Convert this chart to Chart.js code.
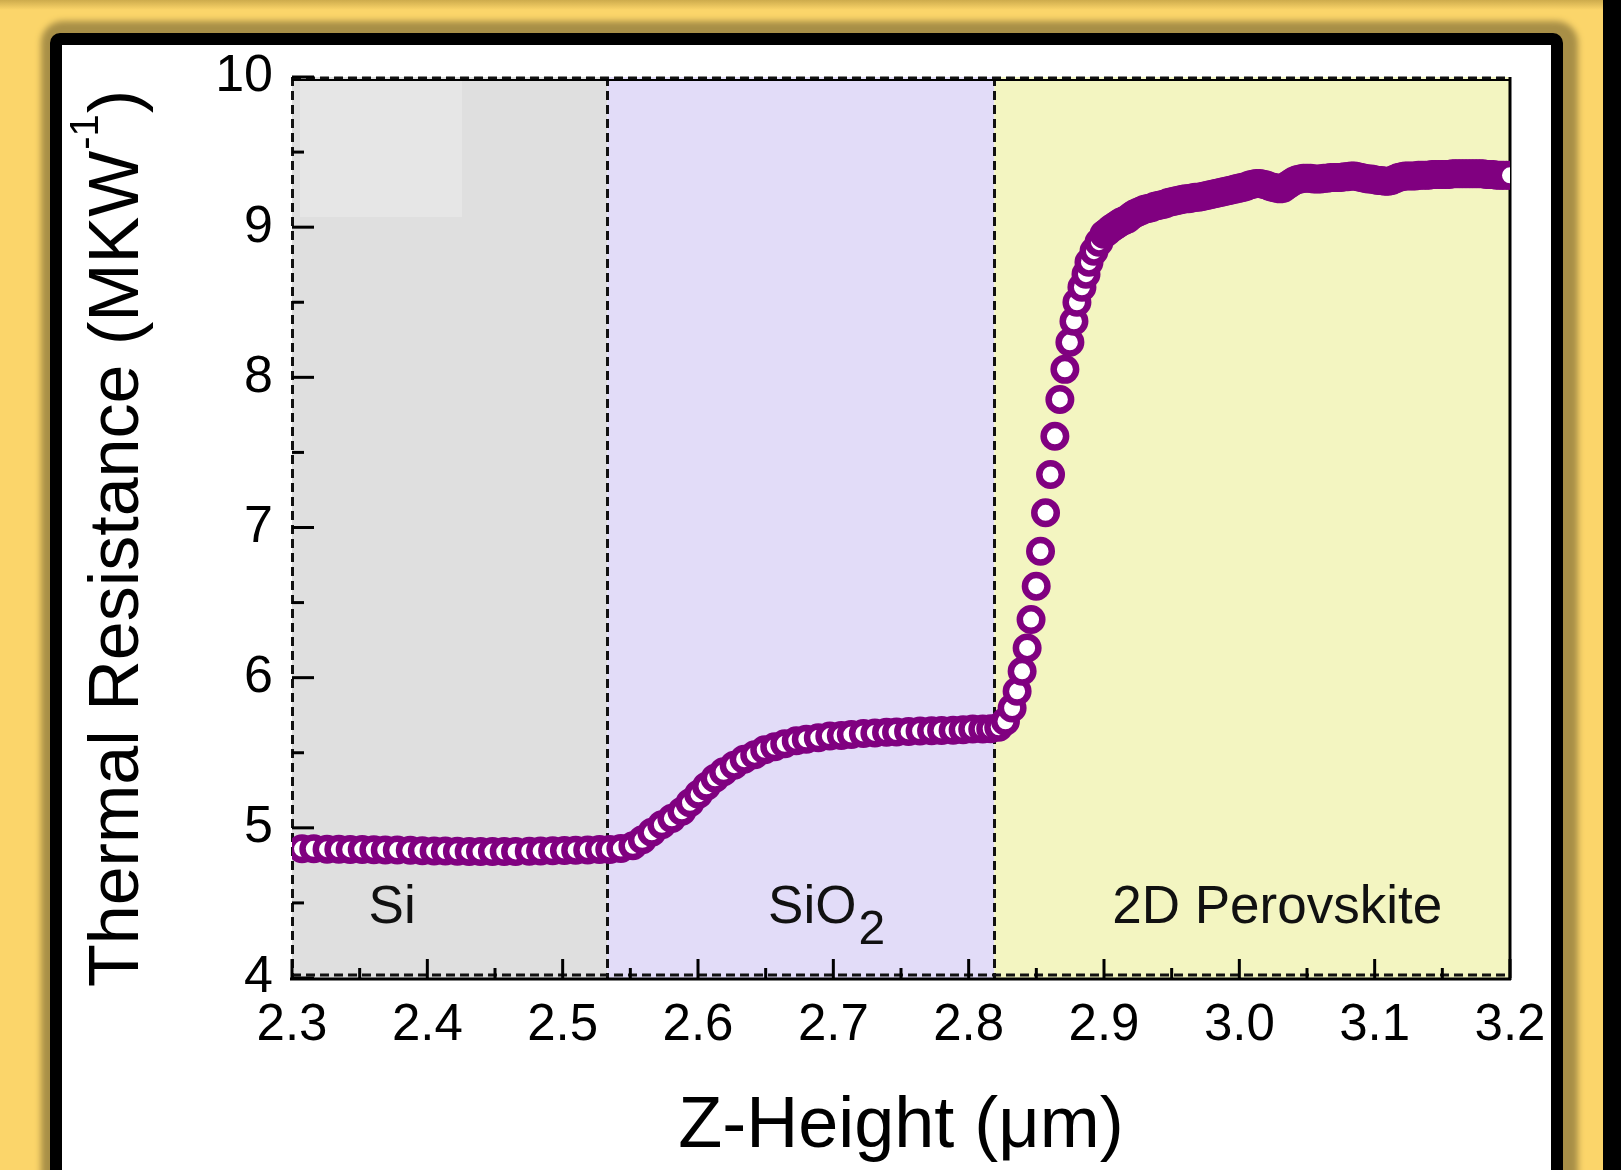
<!DOCTYPE html>
<html>
<head>
<meta charset="utf-8">
<script src="https://cdn.jsdelivr.net/npm/chart.js@4.4.1/dist/chart.umd.min.js"></script>
<style>
  html, body { margin: 0; padding: 0; }
  body { width: 1621px; height: 1170px; overflow: hidden; position: relative; background: #fbd56a; }
  .topshade { position: absolute; left: 0; top: 0; width: 1603px; height: 10px; background: linear-gradient(rgba(150,120,40,0.45), rgba(150,120,40,0)); }
  .frame { position: absolute; left: 50px; top: 33px; width: 1513px; height: 1220px; box-sizing: border-box;
           border: 12px solid #000; border-radius: 10px; background: #fff; box-shadow: 3px 0 6px 12px #a88f47; }
  .rstrip { position: absolute; left: 1603px; top: 0; width: 18px; height: 1170px; background: #000; }
  #chart { position: absolute; left: 0; top: 0; }
</style>
</head>
<body>
<div class="topshade"></div>
<div class="frame"></div>
<div class="rstrip"></div>
<canvas id="chart" width="1621" height="1170"></canvas>
<script>
// Z-height (um) and thermal resistance (MK/W)
const zHeight = [
  2.3074, 2.3161, 2.3259, 2.3346, 2.343, 2.3519, 2.3605, 2.3689, 2.3778, 2.3874,
  2.3963, 2.405, 2.4133, 2.4222, 2.4309, 2.4393, 2.4481, 2.4568, 2.4652, 2.4753,
  2.4837, 2.4926, 2.5013, 2.5096, 2.5185, 2.5272,
  2.5348, 2.543, 2.5519, 2.5589, 2.5659, 2.5733, 2.5807, 2.5881, 2.5941, 2.6004,
  2.6063, 2.6126, 2.6189, 2.6267, 2.6341, 2.6419, 2.6493, 2.6567, 2.6641, 2.6726,
  2.68, 2.6889, 2.6974, 2.7059, 2.7133, 2.7222, 2.7307, 2.7393, 2.7467, 2.7556,
  2.7641, 2.7726, 2.78, 2.7885, 2.7959, 2.803, 2.8104, 2.8163,
  2.8222, 2.8272, 2.8321, 2.8358, 2.8395, 2.8432, 2.8461, 2.8499, 2.8531, 2.8568,
  2.8605, 2.8637, 2.8674, 2.8711, 2.8748, 2.8778, 2.88, 2.8837, 2.8867, 2.8889,
  2.8926, 2.8963, 2.9,
  2.9025, 2.905, 2.9075, 2.91, 2.9125, 2.915, 2.9175, 2.92, 2.9225, 2.925,
  2.9275, 2.93, 2.9325, 2.935, 2.9375, 2.94, 2.9425, 2.945, 2.9475, 2.95,
  2.9525, 2.955, 2.9575, 2.96, 2.9625, 2.965, 2.9675, 2.97, 2.9725, 2.975,
  2.9775, 2.98, 2.9825, 2.985, 2.9875, 2.99, 2.9925, 2.995, 2.9975, 3.0,
  3.0025, 3.005, 3.0075, 3.01, 3.0125, 3.015, 3.0175, 3.02, 3.0225, 3.025,
  3.0275, 3.03, 3.0325, 3.035, 3.0375, 3.04, 3.0425, 3.045, 3.0475, 3.05,
  3.0525, 3.055, 3.0575, 3.06, 3.0625, 3.065, 3.0675, 3.07, 3.0725, 3.075,
  3.0775, 3.08, 3.0825, 3.085, 3.0875, 3.09, 3.0925, 3.095, 3.0975, 3.1,
  3.1025, 3.105, 3.1075, 3.11, 3.1125, 3.115, 3.1175, 3.12, 3.1225, 3.125,
  3.1275, 3.13, 3.1325, 3.135, 3.1375, 3.14, 3.1425, 3.145, 3.1475, 3.15,
  3.1525, 3.155, 3.1575, 3.16, 3.1625, 3.165, 3.1675, 3.17, 3.1725, 3.175,
  3.1775, 3.18, 3.1825, 3.185, 3.1875, 3.19, 3.1925, 3.195, 3.1975, 3.2
];
const thermalR = [
  4.860, 4.860, 4.858, 4.857, 4.856, 4.855, 4.854, 4.853, 4.852, 4.850,
  4.848, 4.846, 4.845, 4.844, 4.843, 4.842, 4.842, 4.842, 4.843, 4.844,
  4.845, 4.847, 4.849, 4.851, 4.853, 4.855,
  4.856, 4.862, 4.880, 4.920, 4.970, 5.020, 5.063, 5.110, 5.167, 5.223,
  5.277, 5.330, 5.373, 5.417, 5.457, 5.487, 5.520, 5.540, 5.560, 5.580,
  5.590, 5.600, 5.611, 5.615, 5.621, 5.628, 5.632, 5.636, 5.638, 5.642,
  5.645, 5.647, 5.649, 5.650, 5.653, 5.658, 5.658, 5.660,
  5.670, 5.709, 5.798, 5.909, 6.042, 6.198, 6.387, 6.609, 6.842, 7.098,
  7.353, 7.607, 7.853, 8.053, 8.233, 8.373, 8.500, 8.600, 8.687, 8.767,
  8.840, 8.900, 8.953,
  8.970, 8.990, 9.005, 9.020, 9.035, 9.045, 9.055, 9.075, 9.090, 9.100,
  9.110, 9.120, 9.125, 9.130, 9.140, 9.145, 9.150, 9.155, 9.165, 9.170,
  9.175, 9.180, 9.185, 9.190, 9.190, 9.195, 9.200, 9.200, 9.205, 9.210,
  9.215, 9.220, 9.225, 9.230, 9.235, 9.240, 9.245, 9.250, 9.255, 9.260,
  9.265, 9.270, 9.280, 9.285, 9.290, 9.290, 9.285, 9.280, 9.270, 9.265,
  9.260, 9.255, 9.260, 9.275, 9.290, 9.305, 9.315, 9.320, 9.325, 9.325,
  9.325, 9.320, 9.320, 9.320, 9.325, 9.325, 9.330, 9.330, 9.330, 9.330,
  9.335, 9.335, 9.340, 9.340, 9.335, 9.330, 9.325, 9.320, 9.320, 9.315,
  9.310, 9.310, 9.305, 9.305, 9.310, 9.320, 9.330, 9.335, 9.340, 9.340,
  9.340, 9.340, 9.345, 9.345, 9.345, 9.345, 9.350, 9.350, 9.350, 9.350,
  9.350, 9.350, 9.355, 9.355, 9.355, 9.355, 9.355, 9.355, 9.355, 9.355,
  9.355, 9.355, 9.350, 9.350, 9.350, 9.345, 9.345, 9.345, 9.345, 9.345
];

// layers (x extents in um)
const layerNames = ['Si', 'SiO2', '2D Perovskite'];
const layerStart = [2.3, 2.533, 2.819];
const layerEnd = [2.533, 2.819, 3.2];

const FONT = "'Liberation Sans', Arial, sans-serif";
const layerFill = ['#dfdfdf', '#e2dcf8', '#f3f5c1'];
const labelX = [2.374, 2.695, 3.028];   // label centres (data units)
const labelBase = 4.367;                // label baseline (data units)

const layerPlugin = {
    id: 'layers',
    beforeDatasetsDraw(chart) {
        const { ctx, chartArea: a, scales: { x, y } } = chart;
        ctx.save();

        // background bands
        layerStart.forEach((s, i) => {
            const x0 = x.getPixelForValue(s), x1 = x.getPixelForValue(layerEnd[i]);
            ctx.fillStyle = layerFill[i];
            ctx.fillRect(x0, a.top, x1 - x0, a.bottom - a.top);
        });
        // lighter patch in the Si band (scan artefact)
        ctx.fillStyle = '#e6e6e6';
        ctx.fillRect(a.left + 8, a.top + 3, 162, 137);

        // layer labels
        ctx.fillStyle = '#111';
        ctx.textBaseline = 'alphabetic';
        const by = y.getPixelForValue(labelBase);
        ctx.font = '53px ' + FONT;
        ctx.textAlign = 'center';
        ctx.fillText(layerNames[0], x.getPixelForValue(labelX[0]), by);
        ctx.fillText(layerNames[2], x.getPixelForValue(labelX[2]), by);
        // SiO2 with subscript
        const w1 = ctx.measureText('SiO').width;
        ctx.font = '48px ' + FONT;
        const w2 = ctx.measureText('2').width;
        const sx = x.getPixelForValue(labelX[1]) - (w1 + w2 + 2) / 2;
        ctx.textAlign = 'left';
        ctx.font = '53px ' + FONT;
        ctx.fillText('SiO', sx, by);
        ctx.font = '48px ' + FONT;
        ctx.fillText('2', sx + w1 + 2, by + 21);

        // dashed layer borders
        ctx.strokeStyle = '#111';
        ctx.lineWidth = 3;
        ctx.setLineDash([9, 5]);
        layerStart.forEach(s => {
            const px = Math.round(x.getPixelForValue(s)) + 0.5;
            ctx.beginPath(); ctx.moveTo(px, a.top); ctx.lineTo(px, a.bottom); ctx.stroke();
        });
        ctx.beginPath(); ctx.moveTo(a.left, a.top + 1); ctx.lineTo(a.right, a.top + 1); ctx.stroke();
        ctx.beginPath(); ctx.moveTo(a.left, a.bottom - 3); ctx.lineTo(a.right, a.bottom - 3); ctx.stroke();

        // solid axis lines
        ctx.setLineDash([]);
        ctx.strokeStyle = '#000';
        ctx.lineWidth = 3;
        ctx.beginPath(); ctx.moveTo(a.left - 2, a.bottom + 1); ctx.lineTo(a.right + 1, a.bottom + 1); ctx.stroke();
        ctx.beginPath(); ctx.moveTo(a.right, a.top); ctx.lineTo(a.right, a.bottom + 2); ctx.stroke();
        ctx.lineWidth = 2;
        ctx.beginPath(); ctx.moveTo(a.left, a.top + 3); ctx.lineTo(a.right, a.top + 3); ctx.stroke();

        // inward ticks, major + minor
        ctx.lineWidth = 3;
        const yt = y.ticks.map(t => t.value);
        yt.forEach((v, i) => {
            const py = y.getPixelForValue(v);
            ctx.beginPath(); ctx.moveTo(a.left, py); ctx.lineTo(a.left + 22, py); ctx.stroke();
            if (i < yt.length - 1) {
                const pm = y.getPixelForValue((v + yt[i + 1]) / 2);
                ctx.beginPath(); ctx.moveTo(a.left, pm); ctx.lineTo(a.left + 12, pm); ctx.stroke();
            }
        });
        const xt = x.ticks.map(t => t.value);
        xt.forEach((v, i) => {
            const px = x.getPixelForValue(v);
            ctx.beginPath(); ctx.moveTo(px, a.bottom); ctx.lineTo(px, a.bottom - 19); ctx.stroke();
            if (i < xt.length - 1) {
                const pm = x.getPixelForValue((v + xt[i + 1]) / 2);
                ctx.beginPath(); ctx.moveTo(pm, a.bottom); ctx.lineTo(pm, a.bottom - 10); ctx.stroke();
            }
        });
        ctx.restore();
    },
    afterDraw(chart) {
        const { ctx, chartArea: a } = chart;
        ctx.save();
        ctx.fillStyle = '#000';
        ctx.textBaseline = 'alphabetic';

        // x title
        ctx.font = '72px ' + FONT;
        ctx.textAlign = 'center';
        ctx.fillText('Z-Height (\u03bcm)', (a.left + a.right) / 2, 1147);

        // y title, rotated, with superscript
        ctx.translate(138, 987);
        ctx.rotate(-Math.PI / 2);
        ctx.textAlign = 'left';
        ctx.font = '70px ' + FONT;
        const main = 'Thermal Resistance (MKW';
        ctx.fillText(main, 0, 0);
        const w = ctx.measureText(main).width;
        ctx.font = '40px ' + FONT;
        ctx.fillText('-1', w + 1, -40);
        const w2 = ctx.measureText('-1').width;
        ctx.font = '70px ' + FONT;
        ctx.fillText(')', w + w2 + 2, 0);
        ctx.restore();
    }
};

const points = zHeight.map((z, i) => ({ x: z, y: thermalR[i] }));

new Chart(document.getElementById('chart'), {
    type: 'scatter',
    data: {
        datasets: [{
            data: points,
            showLine: false,
            pointRadius: 11.25,
            pointHoverRadius: 11.25,
            pointBorderWidth: 6.5,
            pointBackgroundColor: '#ffffff',
            pointBorderColor: '#800080',
            clip: 0
        }]
    },
    options: {
        responsive: false,
        animation: false,
        devicePixelRatio: 1,
        events: [],
        layout: { padding: { left: 0, right: 111, top: 77, bottom: 0 } },
        plugins: { legend: { display: false }, tooltip: { enabled: false } },
        scales: {
            x: {
                type: 'linear', min: 2.3, max: 3.2,
                grid: { display: false }, border: { display: false },
                ticks: { stepSize: 0.1, padding: 9, color: '#000', font: { size: 51, family: FONT },
                         maxRotation: 0, autoSkip: false, callback: v => v.toFixed(1) },
                afterFit: s => { s.height = 192; }
            },
            y: {
                type: 'linear', min: 4, max: 10,
                grid: { display: false }, border: { display: false },
                ticks: { stepSize: 1, padding: 11, color: '#000', font: { size: 52, family: FONT } },
                afterFit: s => { s.width = 292; }
            }
        }
    },
    plugins: [layerPlugin]
});
</script>
</body>
</html>
